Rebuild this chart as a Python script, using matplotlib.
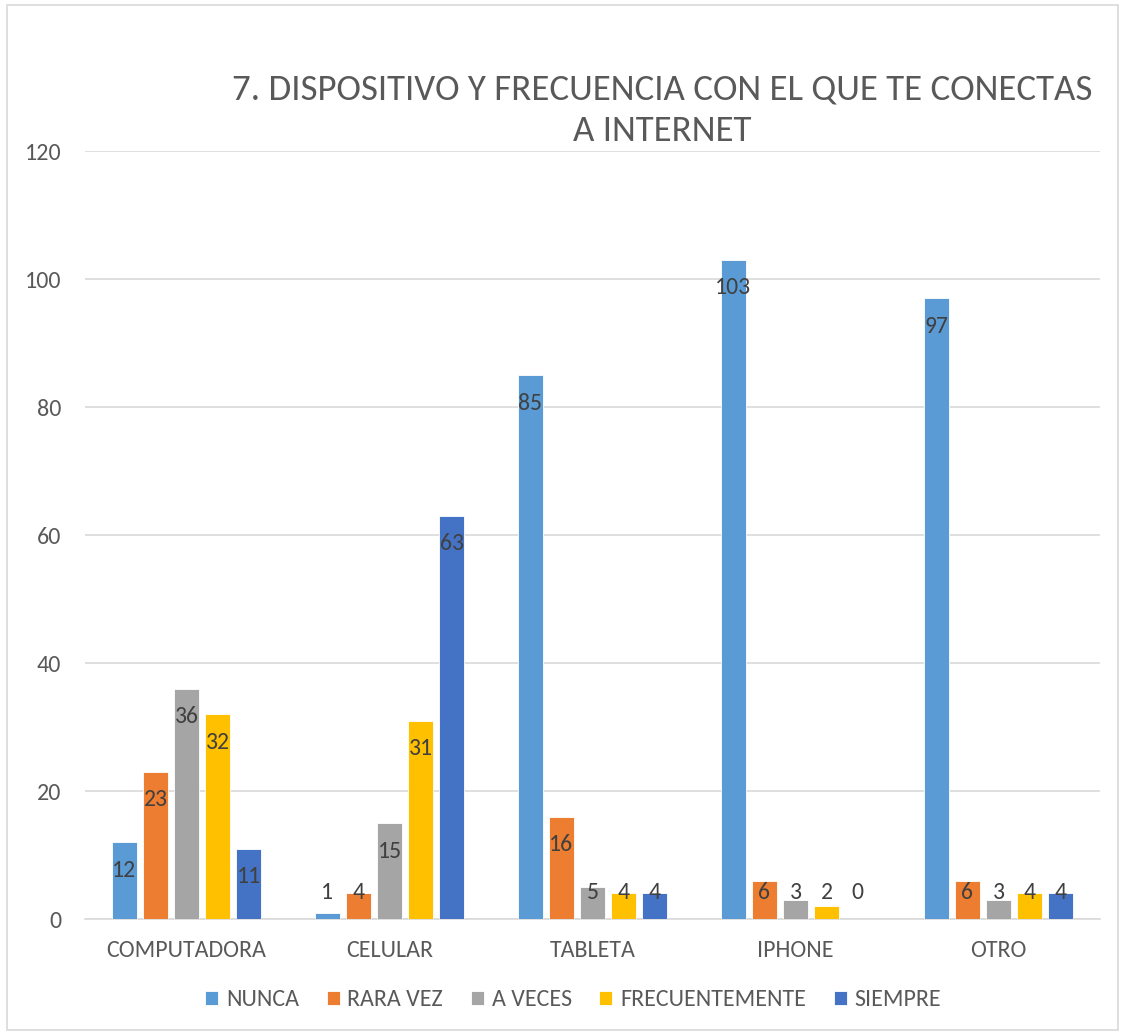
import numpy as np
import matplotlib.pyplot as plt
from matplotlib.patches import Rectangle

categorias = ['COMPUTADORA', 'CELULAR', 'TABLETA', 'IPHONE', 'OTRO']
series = ['NUNCA', 'RARA VEZ', 'A VECES', 'FRECUENTEMENTE', 'SIEMPRE']
nunca = [12, 1, 85, 103, 97]
rara_vez = [23, 4, 16, 6, 6]
a_veces = [36, 15, 5, 3, 3]
frecuentemente = [32, 31, 4, 2, 4]
siempre = [11, 63, 4, 0, 4]
valores = [nunca, rara_vez, a_veces, frecuentemente, siempre]
colores = ['#5B9BD5', '#ED7D31', '#A5A5A5', '#FFC000', '#4472C4']

plt.rcParams['font.family'] = ['Carlito', 'DejaVu Sans']
texto = '#595959'

fig = plt.figure(figsize=(11.25, 10.35), dpi=100)
ax = fig.add_axes([85 / 1125, 1 - 919 / 1035, 1015 / 1125, 768 / 1035])

x = np.arange(len(categorias))
ancho = 0.123
paso = 0.153
for i, (nombre, vals, col) in enumerate(zip(series, valores, colores)):
    pos = x + (i - 2) * paso
    barras = ax.bar(pos, vals, ancho, color=col, label=nombre,
                    edgecolor='white', linewidth=0.6, zorder=3)
    for b, v in zip(barras, vals):
        # etiqueta dentro del extremo, o en la base si la barra es corta
        y = max(v - 4.4, 4.1)
        ax.text(b.get_x() + b.get_width() / 2, y, str(v), ha='center', va='center',
                fontsize=17, color='#404040', zorder=4)

ax.set_xlim(-0.5, len(categorias) - 0.5)
ax.set_ylim(0, 120)
ax.set_yticks(np.arange(0, 121, 20))
ax.set_xticks(x)
ax.set_xticklabels(categorias)
ax.tick_params(axis='both', length=0, labelsize=17.3, colors=texto)
ax.tick_params(axis='x', pad=15)
ax.tick_params(axis='y', pad=17)
ax.yaxis.grid(True, color='#D9D9D9', linewidth=1.2, zorder=0)
for s in ['top', 'right', 'left']:
    ax.spines[s].set_visible(False)
ax.spines['bottom'].set_color('#D9D9D9')
ax.spines['bottom'].set_linewidth(1.2)

fig.text(662 / 1125, 1 - 110.5 / 1035, '7. DISPOSITIVO Y FRECUENCIA CON EL QUE TE CONECTAS\nA INTERNET',
         ha='center', va='center', fontsize=26.6, color=texto, linespacing=1.38)

ax.legend(loc='center', bbox_to_anchor=(0.481, -81 / 768), ncol=5,
          frameon=False, fontsize=17.3, labelcolor=texto, handlelength=0.54, handleheight=0.54,
          handletextpad=0.33, columnspacing=1.15)

fig.patches.append(Rectangle((7 / 1125, 5 / 1035), 1111 / 1125, 1025 / 1035, transform=fig.transFigure,
                             fill=False, edgecolor='#D9D9D9', linewidth=1.2))

fig.savefig('out.png', dpi=100, facecolor='white')
